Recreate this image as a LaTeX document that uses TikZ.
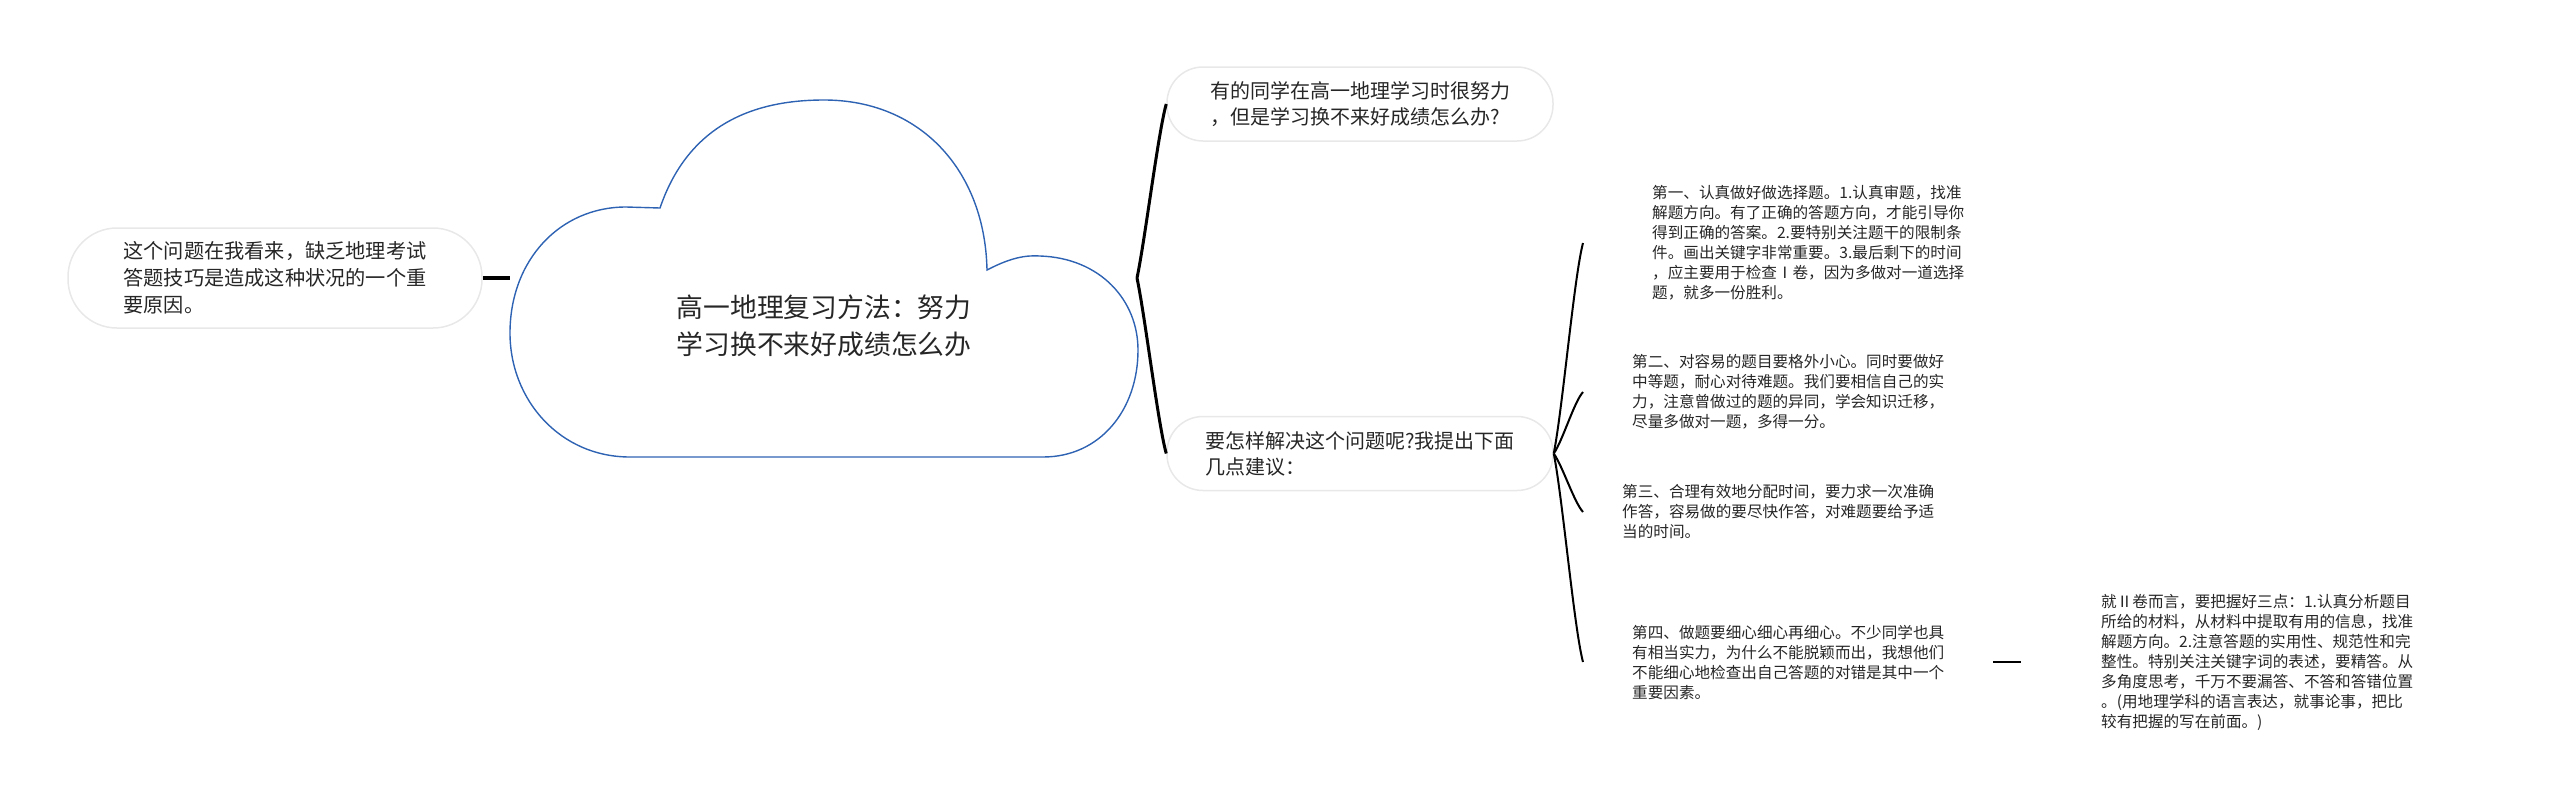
\documentclass[tikz,border=0pt]{standalone}
\usepackage{fontspec}
\setmainfont{Noto Sans CJK SC}
\definecolor{cloudblue}{RGB}{46,98,178}
\definecolor{pillgray}{RGB}{232,232,232}
\definecolor{inkgray}{RGB}{38,38,38}
\tikzset{
  pill/.style={draw=pillgray, line width=1.5pt, rounded corners=36pt, text=inkgray, align=left, font=\fontsize{20}{26}\selectfont},
  tip/.style={anchor=west, inner xsep=49pt, text=inkgray, align=left, font=\fontsize{15.6}{20}\selectfont},
  trunk/.style={line width=3pt},
  twig/.style={line width=2pt}
}
\begin{document}
\begin{tikzpicture}[x=1pt, y=-1pt]

  \useasboundingbox (0,0) rectangle (2560,809);
  \draw[cloudblue, line width=1.4pt] (660,208) .. controls (690,120) and (760,100) .. (824,100) .. controls (920,100) and (985,170) .. (987,270) .. controls (1010,258) and (1025,255) .. (1040,256) .. controls (1100,258) and (1138,300) .. (1138,350) .. controls (1138,410) and (1100,457) .. (1043,457) -- (630,457) .. controls (560,457) and (510,400) .. (510,333) .. controls (510,260) and (560,207) .. (626,207) -- cycle;
  \node[text=inkgray, align=center, font=\fontsize{26.8}{37}\selectfont] (topic) at (824,326) {高一地理复习方法：努力\\学习换不来好成绩怎么办};
  \coordinate (cloudW) at (510,278);
  \coordinate (cloudE) at (1137,278);

  \node[pill, minimum width=414pt, minimum height=100pt, rounded corners=49pt, font=\fontsize{20.2}{27}\selectfont] (why) at (275,278) {这个问题在我看来，缺乏地理考试\\答题技巧是造成这种状况的一个重\\要原因。};
  \draw[line width=4pt] (why.east) -- (cloudW);

  \node[pill, minimum width=386pt, minimum height=74pt] (qa) at (1360,104) {有的同学在高一地理学习时很努力\\，但是学习换不来好成绩怎么办?};
  \node[pill, minimum width=386pt, minimum height=74pt] (qb) at (1360,453.5) {要怎样解决这个问题呢?我提出下面\\几点建议：};
  \draw[trunk] (cloudE) .. controls +(8,-38) and +(-8,28) .. (qa.west);
  \draw[trunk] (cloudE) .. controls +(8,38) and +(-8,-28) .. (qb.west);

  \begin{scope}[]
  \node[tip, inner xsep=69pt] (s1) at (1583,243) {第一、认真做好做选择题。1.认真审题，找准\\解题方向。有了正确的答题方向，才能引导你\\得到正确的答案。2.要特别关注题干的限制条\\件。画出关键字非常重要。3.最后剩下的时间\\，应主要用于检查Ⅰ卷，因为多做对一道选择\\题，就多一份胜利。};
  \node[tip] (s2) at (1583,392) {第二、对容易的题目要格外小心。同时要做好\\中等题，耐心对待难题。我们要相信自己的实\\力，注意曾做过的题的异同，学会知识迁移，\\尽量多做对一题，多得一分。};
  \node[tip, inner xsep=39pt] (s3) at (1583,512) {第三、合理有效地分配时间，要力求一次准确\\作答，容易做的要尽快作答，对难题要给予适\\当的时间。};
  \node[tip] (s4) at (1583,662) {第四、做题要细心细心再细心。不少同学也具\\有相当实力，为什么不能脱颖而出，我想他们\\不能细心地检查出自己答题的对错是其中一个\\重要因素。};
  \draw[twig] (qb.east) .. controls +(9,-46) and +(-9,34) .. (s1.west);
  \draw[twig] (qb.east) .. controls +(9,-13) and +(-9,10) .. (s2.west);
  \draw[twig] (qb.east) .. controls +(9,13) and +(-9,-10) .. (s3.west);
  \draw[twig] (qb.east) .. controls +(9,46) and +(-9,-34) .. (s4.west);
  \end{scope}

  \node[tip, inner xsep=80pt] (s4x) at (2021,662) {就Ⅱ卷而言，要把握好三点：1.认真分析题目\\所给的材料，从材料中提取有用的信息，找准\\解题方向。2.注意答题的实用性、规范性和完\\整性。特别关注关键字词的表述，要精答。从\\多角度思考，千万不要漏答、不答和答错位置\\。(用地理学科的语言表达，就事论事，把比\\较有把握的写在前面。)};
  \draw[twig] (s4.east) -- (s4x.west);

\end{tikzpicture}
\end{document}
